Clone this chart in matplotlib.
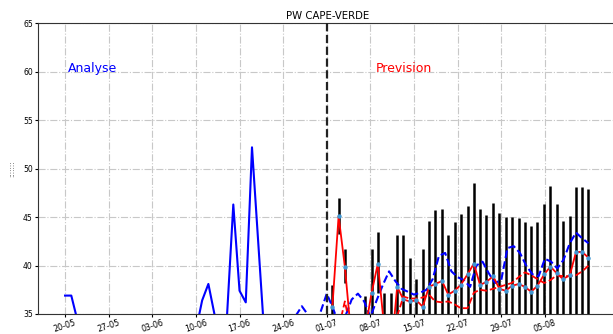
import numpy as np
import matplotlib
matplotlib.use('Agg')
import matplotlib.pyplot as plt
import matplotlib.dates as mdates

# analyse (daily, from 20-05)
ana_start = np.datetime64('2023-05-20')
ana_val = [36.9, 36.9, 34.3, 32.8, 31.5, 31.9, 32.6, 31.4, 30.8, 31.7, 33.0, 32.1,
           31.2, 30.5, 31.6, 32.4, 33.1, 32.0, 31.3, 32.5, 33.6, 33.3, 36.4, 38.1,
           34.9, 33.2, 34.9, 46.3, 37.4, 36.2, 52.2, 42.4, 32.6]

# prevision, days after 01-07
prev_start = np.datetime64('2023-07-01')
fc_day = [0.9, 1.9, 2.9, 4.0, 5.1, 6.2, 7.2, 8.2, 9.2, 10.3, 11.3, 12.3, 13.3, 14.4,
          15.4, 16.4, 17.4, 18.5, 19.5, 20.5, 21.5, 22.6, 23.6, 24.6, 25.6, 26.7,
          27.7, 28.7, 29.7, 30.8, 31.8, 32.8, 33.8, 34.9, 35.9, 36.9, 37.9, 39.0,
          40.0, 41.0, 42.0]
bar_top = [38.0, 47.0, 41.7, np.nan, np.nan, 36.9, 41.7, 43.5, 37.2, 37.2, 43.2, 43.2,
           40.8, 38.6, 41.7, 44.6, 45.7, 45.8, 43.2, 44.5, 45.3, 46.1, 48.5, 45.8,
           45.2, 46.5, 45.4, 45.0, 45.0, 44.9, 44.5, 44.1, 44.5, 46.3, 48.2, 46.3,
           44.6, 45.1, 48.1, 48.1, 47.9]
bar_bot = [30.0, 43.3, 38.2, np.nan, np.nan, 30.0, 30.0, 37.2, 30.0, 30.0, 30.0, 30.0,
           30.0, 30.0, 30.0, 30.0, 30.0, 30.0, 30.0, 30.0, 30.0, 30.0, 30.0, 30.0,
           30.0, 30.0, 30.0, 30.0, 30.0, 30.0, 30.0, 30.0, 30.0, 30.0, 30.0, 30.0,
           30.0, 30.0, 30.0, 30.0, 30.0]
red_val = [35.75, 45.1, 39.9, 32.2, 31.0, 33.5, 37.2, 40.2, 33.7, 30.8, 37.8, 36.5,
           36.3, 36.4, 35.75, 37.8, 38.1, 38.4, 37.0, 37.4, 38.0, 39.1, 40.2, 38.0,
           38.3, 38.9, 37.6, 37.4, 37.9, 38.1, 37.8, 37.3, 37.9, 39.1, 39.9, 39.2,
           38.6, 39.0, 41.4, 41.4, 40.8]
red_dash = [32.0, 33.5, 36.3, 33.0, 31.0, 31.0, 31.0, 31.0, 31.0, 32.0, 34.8, 36.8,
            36.6, 36.6, 36.7, 37.0, 36.3, 36.2, 36.3, 36.0, 35.6, 35.6, 37.2, 37.5,
            37.4, 37.6, 37.8, 38.0, 38.2, 38.8, 39.3, 39.0, 38.6, 38.2, 38.5, 39.0,
            38.9, 38.9, 39.0, 39.4, 40.0]

# blue dashed, integer days from 01-07
blue_day = list(range(-5, 43))
blue_val = [34.8, 35.8, 34.9, 33.5, 35.2, 37.1, 35.6, 33.8, 34.8, 36.5, 37.1, 36.3,
            34.7, 36.4, 38.0, 39.4, 38.4, 37.6, 37.3, 37.0, 37.2, 37.5, 38.6, 41.0,
            41.3, 39.4, 38.8, 38.5, 37.8, 40.0, 40.4, 39.2, 38.2, 38.5, 41.8, 42.0,
            41.3, 40.0, 39.1, 38.9, 40.7, 40.4, 39.7, 40.6, 42.3, 43.4, 42.8, 42.3]


def days(base, d):
    return base + (np.array(d) * 86400).astype('timedelta64[s]')


ana_x = ana_start + np.arange(len(ana_val)).astype('timedelta64[D]')
fc_x = days(prev_start, fc_day)
blue_x = days(prev_start, blue_day)

fig = plt.figure(figsize=(6.13, 3.34), dpi=100)
ax = fig.add_axes([0.0625, 0.0599, 0.9424, 0.8704])

ax.grid(True, linestyle='-.', color='#c8c8c8', lw=0.8)
ax.set_axisbelow(True)

ax.vlines(fc_x, bar_bot, bar_top, color='black', lw=1.8, zorder=2)
ax.plot(ana_x, ana_val, color='blue', lw=1.5, zorder=3)
ax.plot(blue_x, blue_val, color='blue', lw=1.5, ls='--', zorder=3)
ax.plot(fc_x, red_dash, color='red', lw=1.3, ls='--', zorder=3)
ax.plot(fc_x, red_val, color='red', lw=1.3, marker='o', ms=2.2,
        mfc='#3f97d3', mec='#3f97d3', zorder=4)
ax.axvline(prev_start, color='#222222', lw=1.6, ls='--', zorder=5)

ax.text(days(ana_start, 0.5), 60, 'Analyse', color='blue', fontsize=9)
ax.text(days(prev_start, 7.9), 60, 'Prevision', color='red', fontsize=9)

ax.set_title('PW CAPE-VERDE', fontsize=7.3, pad=3)
ax.set_ylim(35, 65)
ax.set_yticks([35, 40, 45, 50, 55, 60, 65])
ax.set_xlim(np.datetime64('2023-05-15T17:00'), np.datetime64('2023-08-16T10:00'))
ticks = ana_start + np.arange(0, 84, 7).astype('timedelta64[D]')
ax.set_xticks(ticks)
ax.xaxis.set_major_formatter(mdates.DateFormatter('%d-%m'))
ax.tick_params(axis='x', labelsize=5.8, rotation=18, length=2.5, pad=0.5)
ax.tick_params(axis='y', labelsize=5.5, length=2.5, pad=1.5)
for lab in ax.get_xticklabels():
    lab.set_ha('center')

ax.set_ylabel(':::::::', fontsize=5, color='#555555')
ax.yaxis.set_label_coords(-0.04, 0.5)
ax.spines['right'].set_visible(False)
for s in ['left', 'bottom', 'top']:
    ax.spines[s].set_color('#333333')

fig.savefig('out.png', dpi=100)
